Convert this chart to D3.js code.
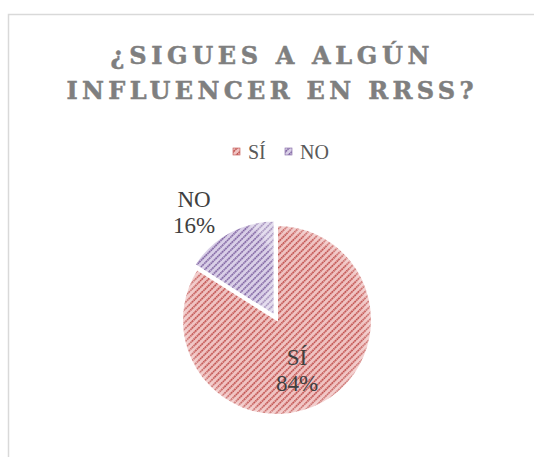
<!DOCTYPE html>
<html><head><meta charset="utf-8">
<script src="https://cdn.jsdelivr.net/npm/d3@7"></script>
<style>html,body{margin:0;padding:0;background:#fff;}svg{display:block;}</style>
</head><body>
<script>
const categories = ["SÍ", "NO"];
const values = [84, 16];
const percentLabels = ["84%", "16%"];
const titleLines = ["¿SIGUES A ALGÚN", "INFLUENCER EN RRSS?"];

const W = 534, H = 457;
const svg = d3.select("body").append("svg").attr("width", W).attr("height", H);

const baseColors = ["#c0504d", "#8064a2"];
const lightColors = ["#f0c3c2", "#d9cfe7"];

const defs = svg.append("defs");
categories.forEach((c, i) => {
  const p = defs.append("pattern").attr("id", "pat" + i)
    .attr("patternUnits", "userSpaceOnUse").attr("width", 4.6).attr("height", 4.6)
    .attr("patternTransform", "rotate(45)");
  p.append("rect").attr("width", 4.6).attr("height", 4.6).attr("fill", lightColors[i]);
  p.append("line").attr("x1", 0.9).attr("y1", 0).attr("x2", 0.9).attr("y2", 4.6)
    .attr("stroke", baseColors[i]).attr("stroke-width", 1.8).attr("stroke-dasharray", "1.5,0.8");
});
const rg = defs.append("radialGradient").attr("id", "edge");
rg.append("stop").attr("offset", "90%").attr("stop-color", "#fff").attr("stop-opacity", 0);
rg.append("stop").attr("offset", "100%").attr("stop-color", "#fff").attr("stop-opacity", 0.3);

// frame
svg.append("rect").attr("x", 8.5).attr("y", 14.5).attr("width", 540).attr("height", 460)
  .attr("fill", "#fff").attr("stroke", "#d9d9d9").attr("stroke-width", 1.5);

// title
const title = svg.append("g");
const titleWidths = [319, 407];
titleLines.forEach((t, i) => {
  title.append("text").attr("x", 270).attr("y", 64 + i * 35)
    .attr("text-anchor", "middle")
    .style("font-family", "'DejaVu Serif', serif")
    .style("font-weight", "bold").style("font-size", "24px")
    .attr("fill", "#7f7f7f").attr("stroke", "#7f7f7f").attr("stroke-width", 0.5)
    .attr("textLength", titleWidths[i]).attr("lengthAdjust", "spacing")
    .text(t);
});

// legend
const legendX = [233, 285];
const legend = svg.append("g");
categories.forEach((c, i) => {
  legend.append("rect").attr("x", legendX[i]).attr("y", 148).attr("width", 7).attr("height", 7)
    .attr("fill", "url(#pat" + i + ")").attr("stroke", baseColors[i]).attr("stroke-width", 0.6);
  legend.append("text").attr("x", legendX[i] + 15).attr("y", 159)
    .attr("font-family", "'Liberation Serif', 'DejaVu Serif', serif")
    .attr("font-size", 20).attr("fill", "#595959").text(c);
});

// pie
const cx = 277, cy = 320, r = 95;
const pie = d3.pie().sort(null).value(d => d)(values);
const arc = d3.arc().innerRadius(0).outerRadius(r);
const g = svg.append("g").attr("transform", `translate(${cx},${cy})`);
const explode = [0, 5];
pie.forEach((d, i) => {
  const mid = (d.startAngle + d.endAngle) / 2;
  const dx = Math.sin(mid) * explode[i], dy = -Math.cos(mid) * explode[i];
  const sg = g.append("g").attr("transform", `translate(${dx},${dy})`);
  sg.append("path").attr("d", arc(d)).attr("fill", "url(#pat" + i + ")")
    .attr("stroke", "#fff").attr("stroke-width", 2);
  sg.append("path").attr("d", arc(d)).attr("fill", "url(#edge)");
});

// labels
const labelPos = [[297, 365], [194, 207]];
pie.forEach((d, i) => {
  const t = svg.append("text").attr("text-anchor", "middle")
    .attr("font-family", "'Liberation Serif', 'DejaVu Serif', serif")
    .attr("font-size", 23).attr("fill", "#404040");
  t.append("tspan").attr("x", labelPos[i][0]).attr("y", labelPos[i][1]).text(categories[i]);
  t.append("tspan").attr("x", labelPos[i][0]).attr("y", labelPos[i][1] + 26).text(percentLabels[i]);
});
</script>
</body></html>
